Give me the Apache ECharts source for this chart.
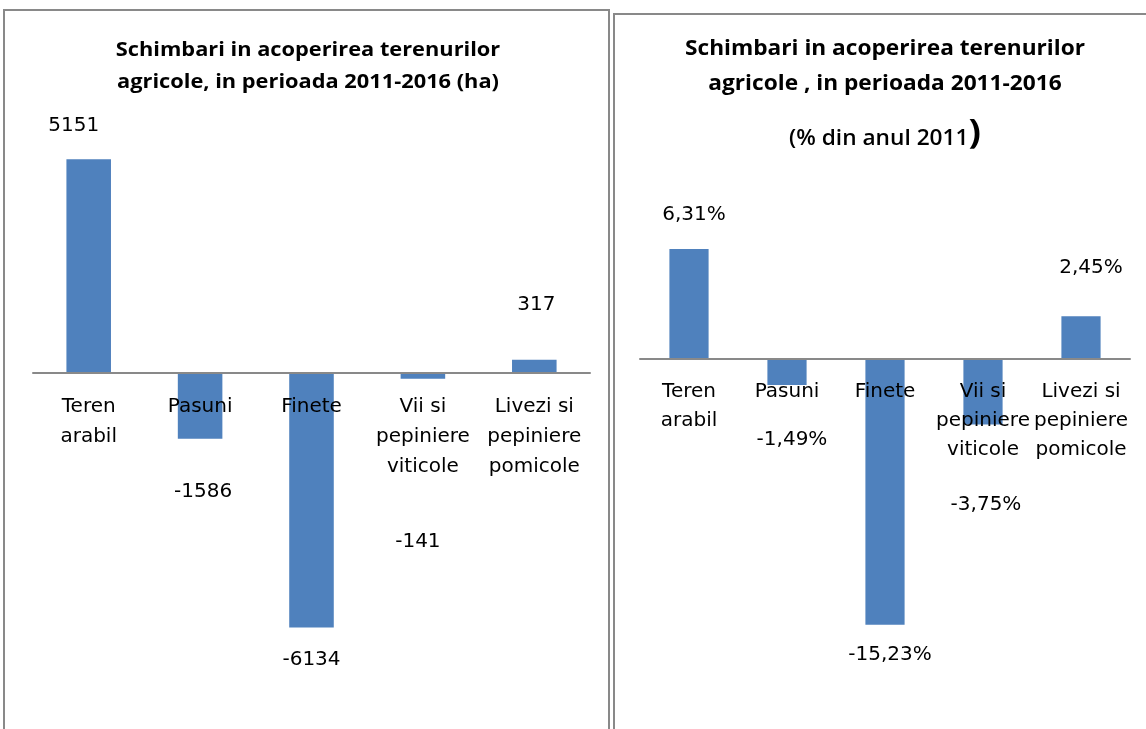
<!DOCTYPE html>
<html>
<head>
<meta charset="utf-8">
<script src="https://cdn.jsdelivr.net/npm/echarts@6/dist/echarts.min.js"></script>
<style>
  html, body { margin: 0; padding: 0; background: #fff; }
  #chart { width: 1146px; height: 729px; }
</style>
</head>
<body>
<div id="chart"></div>
<script>
// Land-cover change categories (shared by both panels)
const categories = ['Teren\narabil', 'Pasuni', 'Finete', 'Vii si\npepiniere\nviticole', 'Livezi si\npepiniere\npomicole'];

// Change 2011-2016 in hectares
const changeHa = [5151, -1586, -6134, -141, 317];

// Change 2011-2016 as % of the 2011 area
const changePct = [6.31, -1.49, -15.23, -3.75, 2.45];

// Label placement tweaks (distance from bar end, horizontal shift)
const haLabelGap = [23, 43, 22, 153, 45];
const haLabelShift = [-15, 3, 0, -5, 2];
const pctLabelGap = [24, 45, 20, 70, 38];
const pctLabelShift = [5, 5, 5, 3, 10];

const BAR = '#4F81BD';
const FONT = 'DejaVu Sans';
const TITLE_FONT = 'Open Sans';

// Plot areas: the value range and pixel box of each panel
const haGrid = { left: 33, width: 557, top: 124, height: 539.5, min: -7000, max: 6000 };
const pctGrid = { left: 640, width: 490, top: 219.4, height: 418.8, min: -16, max: 8 };

// Distance from the grid bottom up to the zero line, so the category axis sits on zero
function zeroOffset(g) {
  return -(g.height * (0 - g.min) / (g.max - g.min));
}

function barData(values, gaps, shifts, fmt) {
  return values.map((v, i) => ({
    value: v,
    label: {
      show: true,
      position: v >= 0 ? 'top' : 'bottom',
      distance: gaps[i],
      offset: [shifts[i], 0],
      formatter: () => fmt(v),
      color: '#000',
      fontFamily: FONT,
      fontSize: 20,
      lineHeight: 20
    }
  }));
}

const fmtPct = v => v.toFixed(2).replace('.', ',') + '%';

function categoryAxis(gridIndex, g, lineHeight, margin) {
  return {
    gridIndex, type: 'category', data: categories, z: 10,
    position: 'bottom',
    offset: zeroOffset(g),
    axisLine: { onZero: false, lineStyle: { color: '#898989', width: 2 } },
    axisTick: { show: false },
    axisLabel: {
      interval: 0, color: '#000', fontFamily: FONT, fontSize: 20,
      lineHeight, margin, hideOverlap: false
    }
  };
}

const chart = echarts.init(document.getElementById('chart'), null, { renderer: 'canvas' });

chart.setOption({
  animation: false,
  backgroundColor: '#fff',
  grid: [
    { left: haGrid.left, width: haGrid.width, top: haGrid.top, height: haGrid.height, containLabel: false, outerBoundsMode: 'none' },
    { left: pctGrid.left, width: pctGrid.width, top: pctGrid.top, height: pctGrid.height, containLabel: false, outerBoundsMode: 'none' }
  ],
  xAxis: [
    categoryAxis(0, haGrid, 30, 19),
    categoryAxis(1, pctGrid, 29, 18)
  ],
  yAxis: [
    { gridIndex: 0, type: 'value', min: haGrid.min, max: haGrid.max, show: false, splitLine: { show: false } },
    { gridIndex: 1, type: 'value', min: pctGrid.min, max: pctGrid.max, show: false, splitLine: { show: false } }
  ],
  series: [
    {
      type: 'bar', xAxisIndex: 0, yAxisIndex: 0,
      barWidth: '40%',
      itemStyle: { color: BAR },
      data: barData(changeHa, haLabelGap, haLabelShift, v => String(v))
    },
    {
      type: 'bar', xAxisIndex: 1, yAxisIndex: 1,
      barWidth: '40%',
      itemStyle: { color: BAR },
      data: barData(changePct, pctLabelGap, pctLabelShift, fmtPct)
    }
  ],
  graphic: [
    // panel frames
    {
      type: 'rect', z: 100, silent: true,
      shape: { x: 4, y: 10, width: 605, height: 760 },
      style: { fill: 'none', stroke: '#898989', lineWidth: 2 }
    },
    {
      type: 'rect', z: 100, silent: true,
      shape: { x: 614, y: 14, width: 600, height: 760 },
      style: { fill: 'none', stroke: '#898989', lineWidth: 2 }
    },
    // titles (slightly widened lettering)
    {
      type: 'text', z: 100, silent: true,
      x: 308, y: 66, scaleX: 1.09,
      style: {
        x: 0, y: 0, align: 'center', verticalAlign: 'middle',
        text: 'Schimbari in acoperirea terenurilor\nagricole, in perioada 2011-2016 (ha)',
        fontFamily: TITLE_FONT, fontWeight: 'bold', fontSize: 20, lineHeight: 32, fill: '#000'
      }
    },
    {
      type: 'text', z: 100, silent: true,
      x: 885, y: 67, scaleX: 1.08,
      style: {
        x: 0, y: 0, align: 'center', verticalAlign: 'middle',
        text: 'Schimbari in acoperirea terenurilor\nagricole , in perioada 2011-2016',
        fontFamily: TITLE_FONT, fontWeight: 'bold', fontSize: 21, lineHeight: 35, fill: '#000'
      }
    },
    {
      type: 'text', z: 100, silent: true,
      x: 885, y: 133, scaleX: 1.08,
      style: {
        x: 0, y: 0, align: 'center', verticalAlign: 'middle',
        text: '{a|(% din anul 2011}{b|)}',
        rich: {
          a: { fontFamily: TITLE_FONT, fontWeight: 600, fontSize: 21, fill: '#000', verticalAlign: 'bottom' },
          b: { fontFamily: TITLE_FONT, fontWeight: 'bold', fontSize: 34, fill: '#000', verticalAlign: 'bottom' }
        }
      }
    }
  ]
});
</script>
</body>
</html>
